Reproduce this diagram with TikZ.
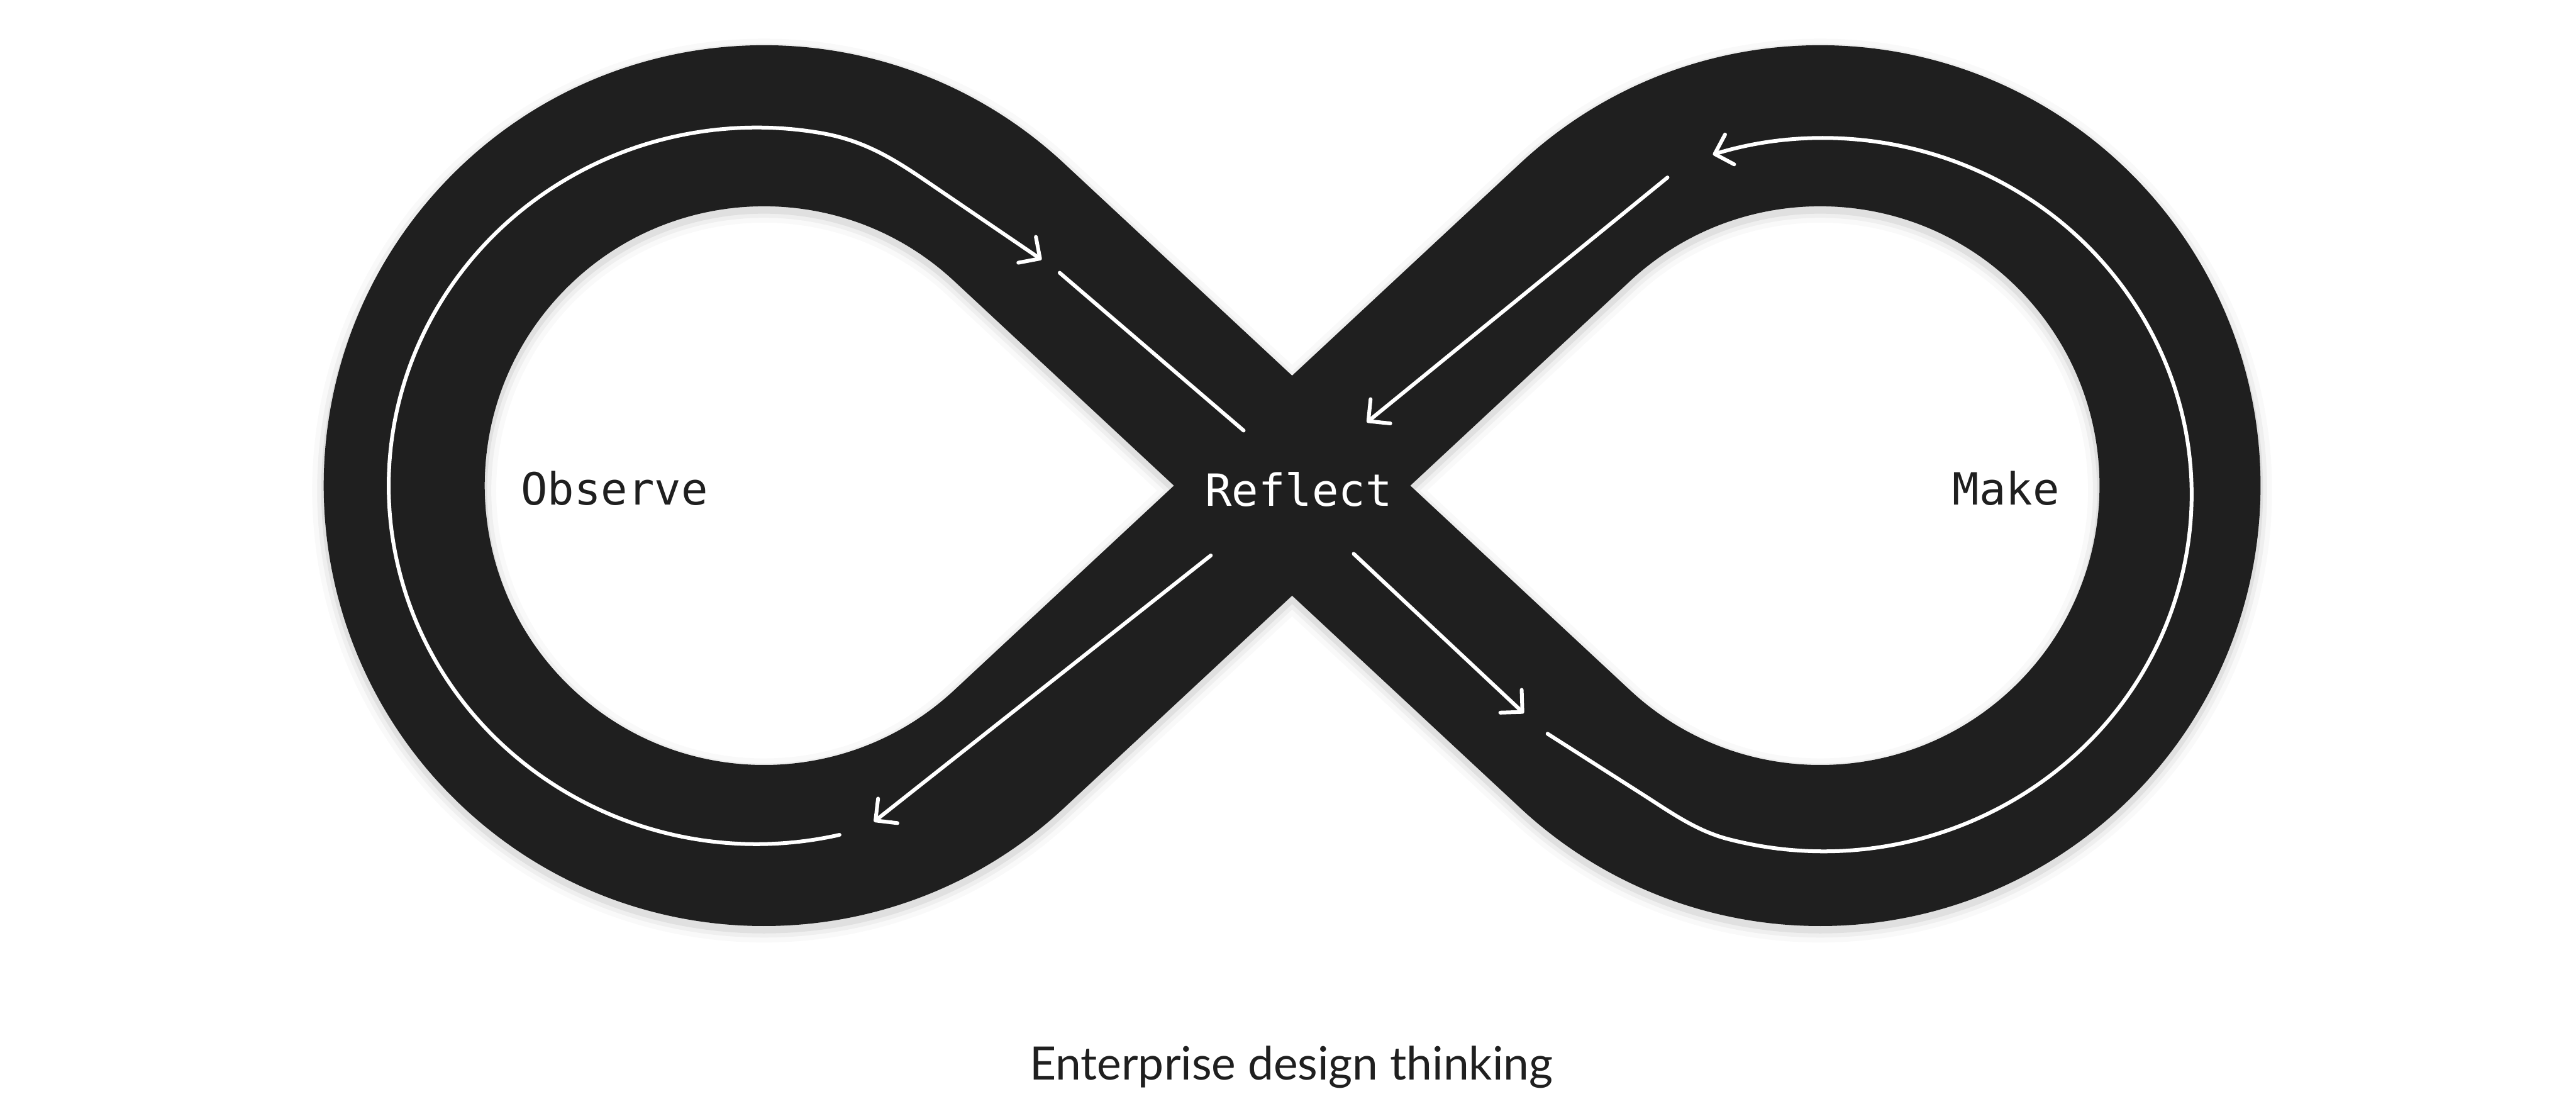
\documentclass[tikz,border=0pt]{standalone}
\usepackage{fontspec}
\usetikzlibrary{arrows.meta}
\newfontfamily\labelfont{DejaVu Sans Mono}
\newfontfamily\captfont{Lato}
\definecolor{ink}{HTML}{1F1F1F}
\begin{document}
\begin{tikzpicture}[x=1pt,y=-1pt,
  band/.style={draw=ink,line width=98pt},
  flow/.style={draw=white,line width=2.3pt,line cap=round,line join=round},
  flowarrow/.style={flow,-{Straight Barb[length=9.5pt,width=19pt,round]}},
  monolabel/.style={font=\labelfont\fontsize{27}{30}\selectfont,inner sep=0pt},
]
\useasboundingbox (0,0) rectangle (1568,676);
\fill[white] (0,0) rectangle (1568,676);
\def\bandpath{(614.18,135.17) arc[start angle=-47.07,end angle=-312.93,radius=219] -- (958.82,135.17) arc[start angle=-132.93,end angle=132.93,radius=219] -- cycle}
% soft shadow
\foreach \w/\o in {112/0.025,106/0.04,101/0.06}
  \draw[line width=\w pt,black,opacity=\o,shift={(0,3)}] \bandpath;
% the band
\draw[band] \bandpath;
% flow coordinates
\coordinate (oS) at (510.99,508.01);
\coordinate (oK) at (562,109);
\coordinate (oT) at (634,158);
\coordinate (s2a) at (645,166);
\coordinate (s2b) at (757,262);
\coordinate (s6a) at (824,337);
\coordinate (s6b) at (927.5,434);
\coordinate (mS) at (942,446.5);
\coordinate (mK) at (1000,483.5);
\coordinate (mE) at (1052,510.6);
\coordinate (s3a) at (1015,108);
\coordinate (s3b) at (832,257);
\coordinate (s5a) at (737,338);
\coordinate (s5b) at (532,500);
% flows
\draw[flowarrow] (oS) arc[start angle=77,end angle=280,x radius=224,y radius=218]
  .. controls (524.1,85.1) and (541.3,95.0) .. (oK) -- (oT);
\draw[flow] (s2a) -- (s2b);
\draw[flowarrow] (s6a) -- (s6b);
\draw[flowarrow] (mS) -- (mK) .. controls (1016.9,494.3) and (1032.6,505.6) .. (mE)
  arc[start angle=105,end angle=-107.5,x radius=224,y radius=217];
\draw[flowarrow] (s3a) -- (s3b);
\draw[flowarrow] (s5a) -- (s5b);
% labels
\node[monolabel,text=ink] (obs) at (374,297) {Observe};
\node[monolabel,text=white] (refl) at (790.5,298) {Reflect};
\node[monolabel,text=ink] (make) at (1221,297) {Make};
\node[font=\captfont\fontsize{28}{32}\selectfont,text=ink,anchor=base,inner sep=0pt] (cap) at (786,657) {Enterprise design thinking};
\end{tikzpicture}
\end{document}
